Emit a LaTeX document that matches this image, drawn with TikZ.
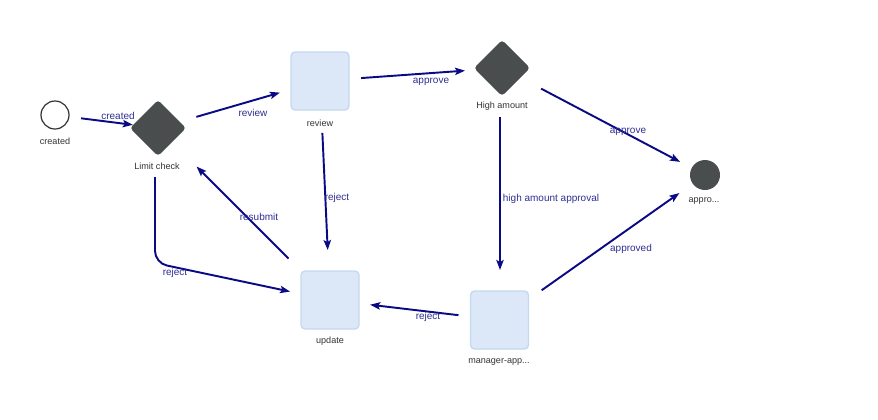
\documentclass[tikz,border=0pt]{standalone}
\usepackage{fontspec}
\setmainfont{Liberation Sans}
\usetikzlibrary{arrows.meta,calc}
\definecolor{gatefill}{HTML}{4A4D4E}
\definecolor{taskfill}{HTML}{DCE8F7}
\definecolor{taskline}{HTML}{C4D8F0}
\definecolor{flowcol}{HTML}{0A0A85}
\definecolor{flowtext}{HTML}{2E2E92}
\definecolor{nodetext}{HTML}{333333}
\tikzset{
  startev/.style={circle,draw=nodetext,line width=0.9pt,fill=white,minimum size=21pt,inner sep=0},
  endev/.style={circle,fill=gatefill,minimum size=22.5pt,inner sep=0},
  gateway/.style={rectangle,rotate=45,fill=gatefill,rounded corners=2.5pt,minimum size=29.7pt,inner sep=0},
  task/.style={rectangle,draw=taskline,line width=1pt,fill=taskfill,rounded corners=3pt,minimum size=43.5pt,inner sep=0},
  caption/.style={font=\fontsize{6.8}{8}\selectfont,text=nodetext,inner sep=0},
  flowlabel/.style={font=\fontsize{7.5}{9}\selectfont,text=flowtext,inner sep=0},
  flow/.style={draw=flowcol,line width=1.45pt,-{Stealth[length=7.5pt,width=5.5pt,inset=1.5pt]}}
}
\begin{document}
\begin{tikzpicture}[x=0.75pt,y=-0.75pt]
\useasboundingbox (0,0) rectangle (878,419);

% states
\node[startev] (created) at (55,115) {};
\node[gateway] (limit) at (158,128) {};
\node[task] (review) at (320,81) {};
\node[gateway] (high) at (502,68) {};
\node[endev] (approved) at (705,175) {};
\node[task] (update) at (330,300) {};
\node[task] (manager) at (499.5,320) {};

% captions under the states
\node[caption] (createdcap) at (55,141) {created};
\node[caption] (limitcap) at (157,166) {Limit check};
\node[caption] (reviewcap) at (320,123) {review};
\node[caption] (highcap) at (502,106) {High amount};
\node[caption] (approvedcap) at (704,201) {appro...};
\node[caption] (updatecap) at (330,341) {update};
\node[caption] (managercap) at (499,362) {manager-app...};

% transitions
\draw[flow,shorten <=19.7pt,shorten >=19pt] (created.center) -- (limit.center);
\draw[flow,shorten <=30pt,shorten >=31.3pt] (limit.center) -- (review.center);
\draw[flow,shorten <=30.9pt,shorten >=27.8pt] (review.center) -- (high.center);
\draw[flow,shorten <=33.2pt,shorten >=21.1pt] (high.center) -- (approved.center);
\draw[flow,shorten <=39pt,shorten >=37.5pt] (review.center) -- (update.center);
\draw[flow,shorten >=37.5pt] ($(high.center)+(-2,49)$) -- ($(manager.center)+(0.5,0)$);
\draw[flow,shorten <=44pt,shorten >=40.9pt] (update.center) -- (limit.center);
\coordinate (bend) at (155,263);
\draw[flow,rounded corners=9pt,shorten >=30.6pt] ($(limit.center)+(-3,49)$) -- (bend) -- (update.center);
\draw[flow,shorten <=31pt,shorten >=30.3pt] (manager.center) -- (update.center);
\draw[flow,shorten <=38.7pt,shorten >=23.5pt] (manager.center) -- (approved.center);

% transition labels
\node[flowlabel] (l1) at (118,116) {created};
\node[flowlabel] (l2) at (253,113) {review};
\node[flowlabel] (l3) at (431,82) {approve};
\node[flowlabel] (l4) at (628,132) {approve};
\node[flowlabel] (l5) at (337,198) {reject};
\node[flowlabel] (l6) at (551,199) {high amount approval};
\node[flowlabel] (l7) at (259,217) {resubmit};
\node[flowlabel] (l8) at (175,273) {reject};
\node[flowlabel] (l9) at (428,317) {reject};
\node[flowlabel] (l10) at (631,249) {approved};
\end{tikzpicture}
\end{document}
